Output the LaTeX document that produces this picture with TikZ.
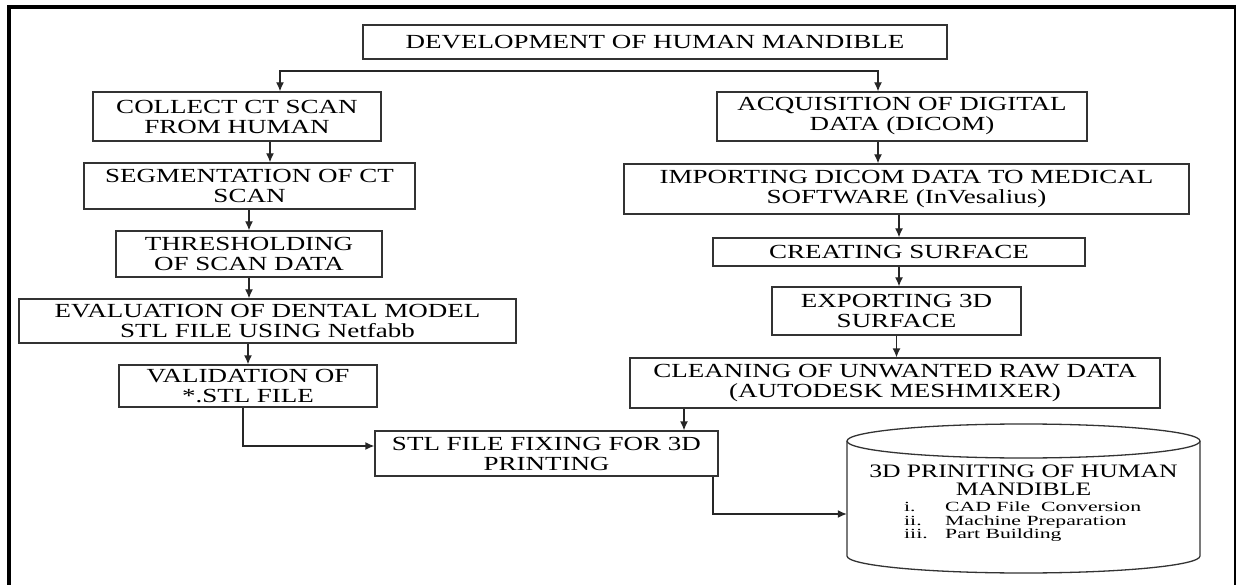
\documentclass[tikz,border=0pt]{standalone}
\usepackage{fontspec}
\setmainfont{Liberation Serif}[FakeStretch=1.35]
\newfontfamily\listfont{Liberation Serif}[FakeStretch=1.55]
\usepackage{tikz}
\usetikzlibrary{arrows.meta}

\begin{document}
\begin{tikzpicture}[x=1pt,y=-1pt,
  box/.style={rectangle,draw=black!80,line width=1.3pt,inner sep=0pt,align=center,font=\fontsize{20}{20}\selectfont},
  link/.style={draw=black!85,line width=1.3pt,-{Latex[length=9pt,width=8pt]}},
  rim/.style={draw=black!80,line width=1.3pt}]
\useasboundingbox (0,0) rectangle (1237,585);

% frame
\draw [line width=4pt] (9,585) -- (9,7) -- (1236,7);
\draw [line width=2.5pt] (1235,5) -- (1235,585);

\node [box,minimum width=584,minimum height=34] (v1) at (655,42) {DEVELOPMENT OF HUMAN MANDIBLE};

% left branch
\node [box,minimum width=288,minimum height=49] (v2) at (237,116.5) {COLLECT CT SCAN\\FROM HUMAN};
\node [box,minimum width=331,minimum height=46] (v3) at (249.5,186) {SEGMENTATION OF CT\\SCAN};
\node [box,minimum width=266,minimum height=46] (v4) at (249,254) {THRESHOLDING\\OF SCAN DATA};
\node [box,minimum width=497,minimum height=44] (v5) at (267.5,321) {EVALUATION OF DENTAL MODEL\\STL FILE USING Netfabb};
\node [box,minimum width=258,minimum height=42] (v6) at (248,386) {VALIDATION OF\\*.STL FILE};
\node [box,minimum width=343,minimum height=45] (v7) at (546.5,453.5) {STL FILE FIXING FOR 3D\\PRINTING};

% right branch
\node [box,minimum width=370,minimum height=49] (v8) at (902,116.5) {ACQUISITION OF DIGITAL\\DATA (DICOM)};
\node [box,minimum width=565,minimum height=50] (v9) at (906.5,189) {IMPORTING DICOM DATA TO MEDICAL\\SOFTWARE (InVesalius)};
\node [box,minimum width=372,minimum height=28] (v10) at (899,252) {CREATING SURFACE};
\node [box,minimum width=249,minimum height=48] (v11) at (896.5,311) {EXPORTING 3D\\SURFACE};
\node [box,minimum width=530,minimum height=50] (v12) at (895,383) {CLEANING OF UNWANTED RAW DATA\\(AUTODESK MESHMIXER)};

% printing drum
\node [inner sep=0pt,minimum width=353,minimum height=149] (v13) at (1023.5,498.5) {};
\draw [rim] (1023.5,441) ellipse [x radius=176.5,y radius=17];
\draw [rim] (847,441) -- (847,556) arc [start angle=180,end angle=0,x radius=176.5,y radius=17] -- (1200,441);
\node [align=center,inner sep=0pt,font=\fontsize{19}{18}\selectfont] (v14) at (1023.5,480) {3D PRINITING OF HUMAN\\MANDIBLE};
\node [anchor=west,align=left,inner sep=0pt,font=\listfont\fontsize{14}{13.5}\selectfont] (v15) at (904,522)
  {\makebox[41pt][l]{i.}CAD File~~Conversion\\\makebox[41pt][l]{ii.}Machine Preparation\\\makebox[41pt][l]{iii.}Part Building};

\coordinate (t) at (655,71);
\coordinate (t1) at (280,71);
\coordinate (t2) at (878,71);
\coordinate (c2) at (270,0);
\coordinate (c6) at (243,446);
\coordinate (c12) at (684,0);
\coordinate (c7) at (713,514);

\draw [link] (t) -| (t1 |- v2.north);
\draw [link] (t) -| (t2 |- v8.north);

\draw [link] (c2 |- v2.south) -- (c2 |- v3.north);
\draw [link] (v4.north |- v3.south) -- (v4.north);
\draw [link] (v4.south) -- (v4.south |- v5.north);
\draw [link] (v6.north |- v5.south) -- (v6.north);
\draw [link] (c6 |- v6.south) |- (v7.west |- c6);

\draw [link] (t2 |- v8.south) -- (t2 |- v9.north);
\draw [link] (v10.north |- v9.south) -- (v10.north);
\draw [link] (v10.south) -- (v10.south |- v11.north);
\draw [link] (v11.south) -- (v11.south |- v12.north);
\draw [link] (c12 |- v12.south) -- (c12 |- v7.north);
\draw [link] (c7 |- v7.south) |- (v13.west |- c7);
\end{tikzpicture}
\end{document}
